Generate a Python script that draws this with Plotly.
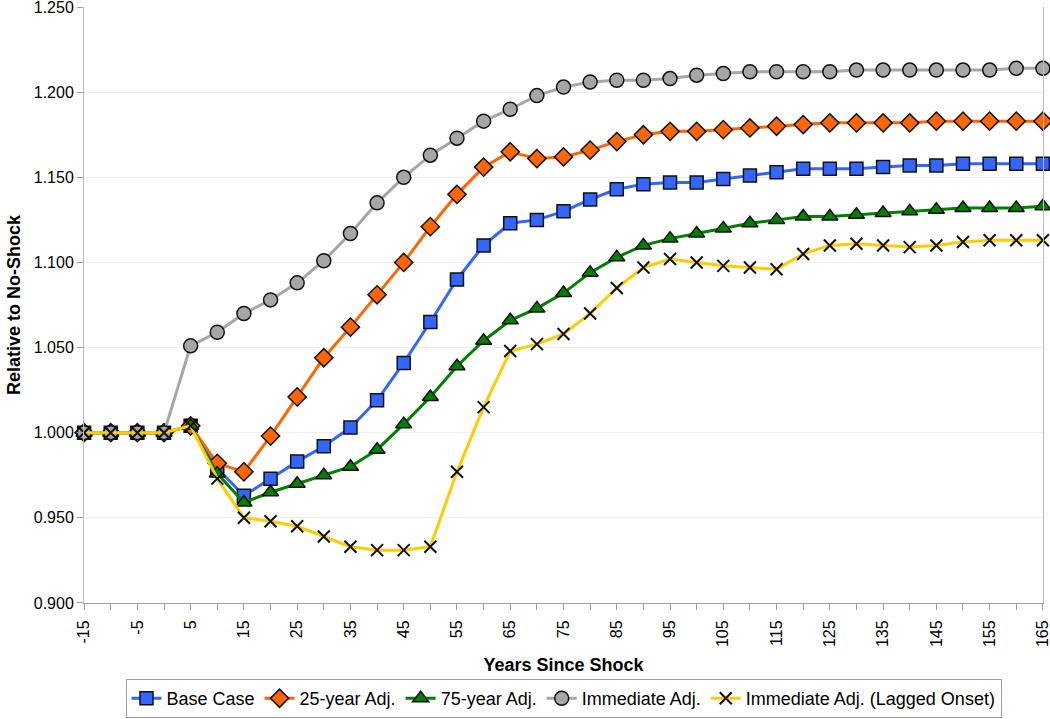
import plotly.graph_objects as go

years = list(range(-15, 170, 5))
x_tick_labels = [str(v) for v in range(-15, 170, 10)]
y_tick_labels = ["0.900", "0.950", "1.000", "1.050", "1.100", "1.150", "1.200", "1.250"]

base_case = [1.000, 1.000, 1.000, 1.000, 1.004, 0.979, 0.963, 0.973, 0.983, 0.992,
             1.003, 1.019, 1.041, 1.065, 1.090, 1.110, 1.123, 1.125, 1.130, 1.137,
             1.143, 1.146, 1.147, 1.147, 1.149, 1.151, 1.153, 1.155, 1.155, 1.155,
             1.156, 1.157, 1.157, 1.158, 1.158, 1.158, 1.158]
adj_25 = [1.000, 1.000, 1.000, 1.000, 1.004, 0.982, 0.977, 0.998, 1.021, 1.044,
          1.062, 1.081, 1.100, 1.121, 1.140, 1.156, 1.165, 1.161, 1.162, 1.166,
          1.171, 1.175, 1.177, 1.177, 1.178, 1.179, 1.180, 1.181, 1.182, 1.182,
          1.182, 1.182, 1.183, 1.183, 1.183, 1.183, 1.183]
adj_75 = [1.000, 1.000, 1.000, 1.000, 1.004, 0.976, 0.959, 0.965, 0.970, 0.975,
          0.980, 0.990, 1.005, 1.021, 1.039, 1.054, 1.066, 1.073, 1.082, 1.094,
          1.103, 1.110, 1.114, 1.117, 1.120, 1.123, 1.125, 1.127, 1.127, 1.128,
          1.129, 1.130, 1.131, 1.132, 1.132, 1.132, 1.133]
immediate = [1.000, 1.000, 1.000, 1.000, 1.051, 1.059, 1.070, 1.078, 1.088, 1.101,
             1.117, 1.135, 1.150, 1.163, 1.173, 1.183, 1.190, 1.198, 1.203, 1.206,
             1.207, 1.207, 1.208, 1.210, 1.211, 1.212, 1.212, 1.212, 1.212, 1.213,
             1.213, 1.213, 1.213, 1.213, 1.213, 1.214, 1.214]
lagged = [1.000, 1.000, 1.000, 1.000, 1.004, 0.973, 0.950, 0.948, 0.945, 0.939,
          0.933, 0.931, 0.931, 0.933, 0.977, 1.015, 1.048, 1.052, 1.058, 1.070,
          1.085, 1.097, 1.102, 1.100, 1.098, 1.097, 1.096, 1.105, 1.110, 1.111,
          1.110, 1.109, 1.110, 1.112, 1.113, 1.113, 1.113]

series = [
    ("Base Case", base_case, "#3366FF", "square", 13),
    ("25-year Adj.", adj_25, "#FF6600", "diamond", 14),
    ("75-year Adj.", adj_75, "#008000", "triangle-up", 14),
    ("Immediate Adj.", immediate, "#A6A6A6", "circle", 14),
]

fig = go.Figure()
for name, vals, col, sym, sz in series:
    fig.add_trace(go.Scatter(
        x=years, y=vals, name=name, mode="lines+markers",
        line=dict(color=col, width=3),
        marker=dict(symbol=sym, size=sz, color=col, line=dict(color="#111111", width=1.5)),
        cliponaxis=False,
    ))
fig.add_trace(go.Scatter(
    x=years, y=lagged, name="Immediate Adj. (Lagged Onset)", mode="lines+markers",
    line=dict(color="#FFCC00", width=3),
    marker=dict(symbol="x-thin", size=12, color="#111111", line=dict(color="#111111", width=2)),
    cliponaxis=False,
))

font_family = "Liberation Sans, Arial, sans-serif"
fig.update_layout(
    width=1050, height=719,
    margin=dict(l=84, r=7, t=7, b=116, autoexpand=False),
    paper_bgcolor="white", plot_bgcolor="white",
    font=dict(family=font_family, size=16, color="#000000"),
    showlegend=True,
    legend=dict(
        orientation="h", x=0.50, xanchor="center", y=-0.193, yanchor="bottom",
        bordercolor="#A0A0A0", borderwidth=1, font=dict(size=18),
        tracegroupgap=0,
    ),
    xaxis=dict(
        range=[-15.02, 165.02], automargin=False,
        tickmode="array", tickvals=[int(t) for t in x_tick_labels], ticktext=x_tick_labels,
        tickangle=-90, ticks="outside", ticklen=6, tickcolor="#A0A0A0",
        tickfont=dict(size=16), ticklabeloverflow="allow", ticklabelstandoff=4,
        showline=True, linecolor="#A0A0A0", linewidth=1,
        showgrid=False, zeroline=False,
        minor=dict(dtick=5, tick0=-15, ticks="outside", ticklen=6, tickcolor="#A0A0A0", showgrid=False),
        title=dict(text="<b>Years Since Shock</b>", font=dict(size=18), standoff=12),
    ),
    yaxis=dict(
        range=[0.89995, 1.25005], automargin=False,
        tickmode="array", tickvals=[float(t) for t in y_tick_labels], ticktext=y_tick_labels,
        ticks="outside", ticklen=6, tickcolor="#A0A0A0",
        tickfont=dict(size=16), ticklabeloverflow="allow",
        showline=True, linecolor="#BDBDBD", linewidth=1, mirror=True,
        showgrid=True, gridcolor="#EFEFEF", gridwidth=1, zeroline=False,
        title=dict(text="<b>Relative to No-Shock</b>", font=dict(size=18), standoff=8),
    ),
)

fig.write_html("out.html", config={"displayModeBar": False},
               post_script="document.body.style.margin='0';")
